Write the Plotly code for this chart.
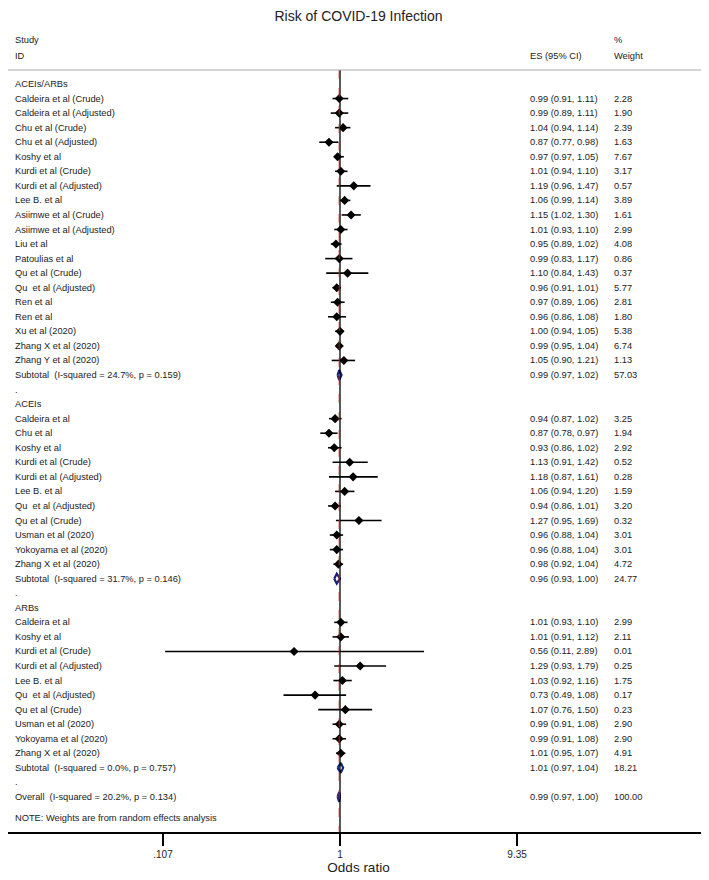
import plotly.graph_objects as go

# ---- data ----
group_names = ["ACEIs/ARBs", "ACEIs", "ARBs"]

acei_arb_study = ["Caldeira et al (Crude)", "Caldeira et al (Adjusted)", "Chu et al (Crude)",
                  "Chu et al (Adjusted)", "Koshy et al", "Kurdi et al (Crude)", "Kurdi et al (Adjusted)",
                  "Lee B. et al", "Asiimwe et al (Crude)", "Asiimwe et al (Adjusted)", "Liu et al",
                  "Patoulias et al", "Qu et al (Crude)", "Qu\u00a0 et al (Adjusted)", "Ren et al", "Ren et al",
                  "Xu et al (2020)", "Zhang X et al (2020)", "Zhang Y et al (2020)"]
acei_arb_es = [0.99, 0.99, 1.04, 0.87, 0.97, 1.01, 1.19, 1.06, 1.15, 1.01, 0.95, 0.99, 1.10, 0.96, 0.97, 0.96, 1.00, 0.99, 1.05]
acei_arb_lo = [0.91, 0.89, 0.94, 0.77, 0.97, 0.94, 0.96, 0.99, 1.02, 0.93, 0.89, 0.83, 0.84, 0.91, 0.89, 0.86, 0.94, 0.95, 0.90]
acei_arb_hi = [1.11, 1.11, 1.14, 0.98, 1.05, 1.10, 1.47, 1.14, 1.30, 1.10, 1.02, 1.17, 1.43, 1.01, 1.06, 1.08, 1.05, 1.04, 1.21]
acei_arb_wt = [2.28, 1.90, 2.39, 1.63, 7.67, 3.17, 0.57, 3.89, 1.61, 2.99, 4.08, 0.86, 0.37, 5.77, 2.81, 1.80, 5.38, 6.74, 1.13]

acei_study = ["Caldeira et al", "Chu et al", "Koshy et al", "Kurdi et al (Crude)", "Kurdi et al (Adjusted)",
              "Lee B. et al", "Qu\u00a0 et al (Adjusted)", "Qu et al (Crude)", "Usman et al (2020)",
              "Yokoyama et al (2020)", "Zhang X et al (2020)"]
acei_es = [0.94, 0.87, 0.93, 1.13, 1.18, 1.06, 0.94, 1.27, 0.96, 0.96, 0.98]
acei_lo = [0.87, 0.78, 0.86, 0.91, 0.87, 0.94, 0.86, 0.95, 0.88, 0.88, 0.92]
acei_hi = [1.02, 0.97, 1.02, 1.42, 1.61, 1.20, 1.01, 1.69, 1.04, 1.04, 1.04]
acei_wt = [3.25, 1.94, 2.92, 0.52, 0.28, 1.59, 3.20, 0.32, 3.01, 3.01, 4.72]

arb_study = ["Caldeira et al", "Koshy et al", "Kurdi et al (Crude)", "Kurdi et al (Adjusted)", "Lee B. et al",
             "Qu\u00a0 et al (Adjusted)", "Qu et al (Crude)", "Usman et al (2020)", "Yokoyama et al (2020)",
             "Zhang X et al (2020)"]
arb_es = [1.01, 1.01, 0.56, 1.29, 1.03, 0.73, 1.07, 0.99, 0.99, 1.01]
arb_lo = [0.93, 0.91, 0.11, 0.93, 0.92, 0.49, 0.76, 0.91, 0.91, 0.95]
arb_hi = [1.10, 1.12, 2.89, 1.79, 1.16, 1.08, 1.50, 1.08, 1.08, 1.07]
arb_wt = [2.99, 2.11, 0.01, 0.25, 1.75, 0.17, 0.23, 2.90, 2.90, 4.91]

subtotal_label = ["Subtotal\u00a0 (I-squared = 24.7%, p = 0.159)",
                  "Subtotal\u00a0 (I-squared = 31.7%, p = 0.146)",
                  "Subtotal\u00a0 (I-squared = 0.0%, p = 0.757)"]
subtotal_es = [0.99, 0.96, 1.01]
subtotal_lo = [0.97, 0.93, 0.97]
subtotal_hi = [1.02, 1.00, 1.04]
subtotal_wt = [57.03, 24.77, 18.21]

overall_label = "Overall\u00a0 (I-squared = 20.2%, p = 0.134)"
overall_es, overall_lo, overall_hi, overall_wt = 0.99, 0.97, 1.00, 100.00

tick_vals = [0.107, 1, 9.35]
tick_text = [".107", "1", "9.35"]

# ---- build rows ----
groups = [
  (acei_arb_study, acei_arb_es, acei_arb_lo, acei_arb_hi, acei_arb_wt),
  (acei_study, acei_es, acei_lo, acei_hi, acei_wt),
  (arb_study, arb_es, arb_lo, arb_hi, arb_wt),
]

rows = []  # (label, kind, es, lo, hi, wt)
for g, (st, es, lo, hi, wt) in enumerate(groups):
  rows.append((group_names[g], "head", None, None, None, None))
  for i in range(len(st)):
    rows.append((st[i], "study", es[i], lo[i], hi[i], wt[i]))
  rows.append((subtotal_label[g], "pooled", subtotal_es[g], subtotal_lo[g], subtotal_hi[g], subtotal_wt[g]))
  rows.append((".", "dot", None, None, None, None))
rows.append((overall_label, "pooled", overall_es, overall_lo, overall_hi, overall_wt))

# page body adds an 8px margin, so lay out in page pixels and shift
OFF = 8
W, H = 709 - OFF, 880 - OFF
ML, MR, MT = 0, 0, 0
axis_px = 832 - OFF
MB = H - axis_px
x_null_px, px_per_dec = 340 - OFF, 182.4
row0_px, row_px = 84 - OFF, 14.55
plot_w = W - ML - MR
plot_h = H - MT - MB
x_range = [-(x_null_px - ML) / px_per_dec, (W - MR - x_null_px) / px_per_dec]
y_range = [(MT + plot_h - row0_px) / row_px, (MT - row0_px) / row_px]

def px2paper(p):
  return (p - OFF - ML) / plot_w

def py2row(p):
  return (p - OFF - row0_px) / row_px

txt_font = dict(family="Liberation Sans, Arial, sans-serif", size=9.3, color="#222")

fig = go.Figure()

# CI lines
cx, cy = [], []
mx, my = [], []
for r, (lab, kind, es, lo, hi, wt) in enumerate(rows):
  if kind == "study":
    cx += [lo, hi, None]
    cy += [r, r, None]
    mx.append(es)
    my.append(r)
fig.add_trace(go.Scatter(x=cx, y=cy, mode="lines", line=dict(color="black", width=1.6),
                         hoverinfo="skip", showlegend=False))
fig.add_trace(go.Scatter(x=mx, y=my, mode="markers",
                         marker=dict(symbol="diamond", size=7, color="black"),
                         hoverinfo="skip", showlegend=False))

# pooled diamonds
for r, (lab, kind, es, lo, hi, wt) in enumerate(rows):
  if kind == "pooled":
    fig.add_trace(go.Scatter(x=[lo, es, hi, es, lo], y=[r, r - 0.34, r, r + 0.34, r],
                             mode="lines", line=dict(color="#15207a", width=2.2),
                             hoverinfo="skip", showlegend=False))

# null line and overall line
top_row = py2row(70)
fig.add_shape(type="line", xref="x", yref="y", x0=1, x1=1, y0=top_row, y1=y_range[0],
              line=dict(color="black", width=1.3))
fig.add_shape(type="line", xref="x", yref="y", x0=overall_es, x1=overall_es, y0=top_row, y1=y_range[0],
              line=dict(color="#b3262b", width=1, dash="dash"))

# header separator
fig.add_shape(type="line", xref="paper", yref="y", x0=0, x1=1, y0=top_row, y1=top_row,
              line=dict(color="#aaaaaa", width=1))

ann = []
def add_text(xp, y, t, anchor="left"):
  ann.append(dict(x=px2paper(xp), y=y, xref="paper", yref="y", text=t, showarrow=False,
                  xanchor=anchor, yanchor="middle", font=txt_font))

add_text(13, py2row(40), "Study")
add_text(13, py2row(56), "ID")
add_text(528, py2row(56), "ES (95% CI)")
add_text(612, py2row(40), "%")
add_text(612, py2row(56), "Weight")

for r, (lab, kind, es, lo, hi, wt) in enumerate(rows):
  add_text(13, r, lab)
  if es is not None:
    add_text(528, r, f"{es:.2f} ({lo:.2f}, {hi:.2f})")
    add_text(612, r, f"{wt:.2f}")

add_text(13, len(rows) + 0.45, "NOTE: Weights are from random effects analysis")

fig.update_layout(
  width=W, height=H,
  margin=dict(l=ML, r=MR, t=MT, b=MB, pad=0),
  paper_bgcolor="white", plot_bgcolor="white",
  title=dict(text="Risk of COVID-19 Infection", x=0.5, xanchor="center", y=1 - (16 - OFF) / H, yanchor="middle",
             font=dict(family="Liberation Sans, Arial, sans-serif", size=14, color="#222")),
  annotations=ann,
  showlegend=False,
)
fig.update_xaxes(type="log", range=x_range, showgrid=False, zeroline=False,
                 showline=True, linecolor="black", linewidth=1.5,
                 ticks="outside", ticklen=12, tickwidth=1.5, tickcolor="black",
                 tickvals=tick_vals, ticktext=tick_text,
                 tickfont=dict(family="Liberation Sans, Arial, sans-serif", size=10, color="#222"),
                 title=dict(text="Odds ratio", standoff=2,
                            font=dict(family="Liberation Sans, Arial, sans-serif", size=13.5, color="#222")),
                 fixedrange=True)
fig.update_yaxes(range=y_range, visible=False, fixedrange=True)

fig.write_html("out.html")
